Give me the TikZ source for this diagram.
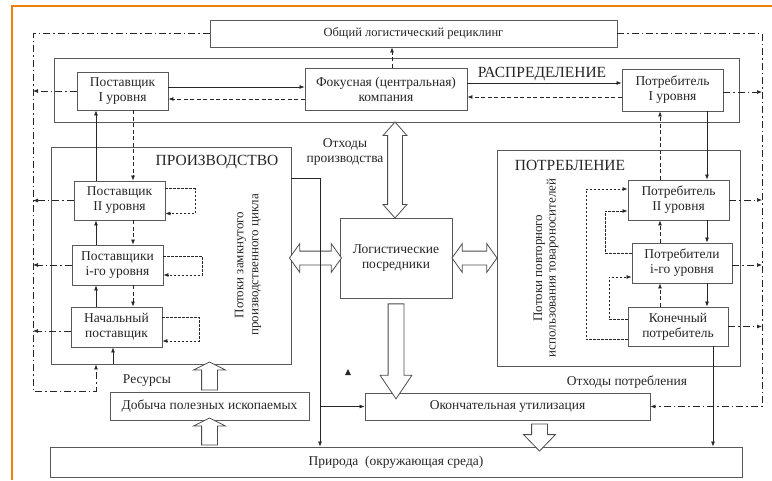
\documentclass[tikz,border=0pt]{standalone}
\usepackage{fontspec}
\setmainfont{Liberation Serif}
\usetikzlibrary{arrows.meta,shapes.arrows,calc}

\tikzset{
  box/.style={draw=black!65, line width=.9pt, fill=white, align=center, inner sep=1pt,
    font=\fontsize{13.5}{15}\selectfont},
  area/.style={draw=black!65, line width=.9pt},
  title/.style={font=\fontsize{15.5}{17}\selectfont},
  lbl/.style={font=\fontsize{13.5}{15}\selectfont, align=center},
  solidflow/.style={->},
  backflow/.style={->, dash pattern=on 4pt off 2.5pt},
  selfflow/.style={->, dash pattern=on 2.5pt off 1.5pt},
  recyc/.style={->, dash pattern=on 7pt off 3pt on 1.5pt off 3pt},
  fatone/.style={single arrow, draw=black!70, fill=white, line width=.8pt, inner xsep=0pt,
    inner ysep=7.5pt, minimum width=0pt, single arrow head extend=8pt},
  fattwo/.style={double arrow, draw=black!70, fill=white, line width=.8pt, inner xsep=0pt,
    inner ysep=7pt, minimum width=0pt},
}

\begin{document}
\begin{tikzpicture}[x=1pt,y=-1pt,>={Latex[length=5pt,width=4pt]},line width=.7pt,color=black!85]
\useasboundingbox (0,0) rectangle (772,480);
\draw[orange!75!brown, line width=1.5pt] (12,480) -- (12,6) -- (772,6);

% helper lines
\coordinate (lline) at (33,0);
\coordinate (rline) at (762,0);
\coordinate (lb) at (33,391);
\coordinate (sx) at (96,0);
\coordinate (dx) at (133,0);
\coordinate (rx) at (113,0);
\coordinate (cx) at (707,0);
\coordinate (ux) at (660,0);
\coordinate (nx) at (713,0);
\coordinate (wx) at (320,0);
\coordinate (wy) at (0,178);
\coordinate (bx) at (395,0);
\coordinate (cl1) at (586,0);
\coordinate (cl2) at (605,0);
\coordinate (cl3) at (609,0);

% areas
\node[area, minimum width=685pt, minimum height=64pt] (rasp) at (396.5,90) {};
\node[area, minimum width=240pt, minimum height=217pt] (prod) at (171,255.5) {};
\node[area, minimum width=243pt, minimum height=216pt] (cons) at (618.5,258) {};
\node[title] (raspt) at (542,74) {РАСПРЕДЕЛЕНИЕ};
\node[title] (prodt) at (217,162) {ПРОИЗВОДСТВО};
\node[title] (const) at (570,165) {ПОТРЕБЛЕНИЕ};

% boxes
\node[box, font=\fontsize{12.5}{14}\selectfont, minimum width=407pt, minimum height=27pt] (obsh) at (413.5,33.5) {Общий логистический рециклинг};
\node[box, minimum width=91pt, minimum height=38pt] (sup1) at (122.5,91) {Поставщик\\I уровня};
\node[box, minimum width=162pt, minimum height=42pt] (focus) at (386,89) {Фокусная (центральная)\\компания};
\node[box, minimum width=101pt, minimum height=42pt] (con1) at (672.5,90) {Потребитель\\I уровня};
\node[box, minimum width=91pt, minimum height=39pt] (sup2) at (119.5,200.5) {Поставщик\\II уровня};
\node[box, minimum width=91pt, minimum height=40pt] (supi) at (117.5,265) {Поставщики\\i-го уровня};
\node[box, minimum width=91pt, minimum height=40pt] (sup0) at (116.5,327) {Начальный\\поставщик};
\node[box, minimum width=112pt, minimum height=80pt] (log) at (396,258) {Логистические\\посредники};
\node[box, minimum width=101pt, minimum height=40pt] (con2) at (678.5,200) {Потребитель\\II уровня};
\node[box, minimum width=100pt, minimum height=40pt] (coni) at (682,263) {Потребители\\i-го уровня};
\node[box, minimum width=100pt, minimum height=39pt] (con0) at (678,326.5) {Конечный\\потребитель};
\node[box, minimum width=199pt, minimum height=28pt] (dob) at (209.5,406) {Добыча полезных ископаемых};
\node[box, minimum width=285pt, minimum height=27pt] (util) at (507.5,406.5) {Окончательная утилизация};
\node[box, minimum width=692pt, minimum height=30pt] (nat) at (396,462) {Природа\ \ (окружающая среда)};

% vertical texts and labels
\node[lbl, font=\fontsize{13}{15}\selectfont, rotate=90] (ptxt) at (248,265) {Потоки замкнутого\\производственного цикла};
\node[lbl, font=\fontsize{13}{13.5}\selectfont, rotate=90] (ctxt) at (546,268) {Потоки повторного\\использования товароносителей};
\node[lbl] (wprod) at (345,152) {Отходы\\производства};
\node[lbl] (res) at (147,381) {Ресурсы};
\node[lbl] (wcons) at (627,382) {Отходы потребления};

% block arrows
\node[fattwo, rotate=90, minimum height=96pt, double arrow head extend=4.5pt, double arrow tip angle=83]
  (dv) at ($(rasp.south -| bx)!.5!(log.north -| bx)$) {};
\node[fattwo, inner ysep=6.5pt, minimum height=52pt, double arrow head extend=7.5pt, double arrow tip angle=109]
  (dl) at ($(prod.east |- log.west)!.5!(log.west)$) {};
\node[fattwo, inner ysep=6.5pt, minimum height=45pt, double arrow head extend=7.5pt, double arrow tip angle=109]
  (dr) at ($(log.east)!.5!(log.east -| cons.west)$) {};
\node[fatone, rotate=90, minimum height=28pt, single arrow tip angle=127]
  (ar1) at ($(dob.north)!.5!(dob.north |- prod.south)$) {};
\node[fatone, rotate=90, minimum height=27pt, single arrow tip angle=127]
  (ar2) at ($(dob.south)!.5!(dob.south |- nat.north)$) {};
\node[fatone, rotate=-90, minimum height=95pt, single arrow tip angle=68]
  (ar3) at ($(log.south)!.5!(log.south |- util.north)$) {};
\node[fatone, rotate=-90, minimum height=27pt, single arrow tip angle=88]
  (ar4) at ($([xshift=32pt]util.south)!.5!([xshift=32pt]util.south |- nat.north)$) {};

% distribution
\draw[solidflow] ([yshift=4pt]sup1.east) -- ([yshift=4pt]sup1.east -| focus.west);
\draw[backflow] ([yshift=-10pt]focus.west) -- ([yshift=-10pt]focus.west -| sup1.east);
\draw[solidflow] ([yshift=6pt]focus.east) -- ([yshift=6pt]focus.east -| con1.west);
\draw[backflow] ([yshift=-7pt]con1.west) -- ([yshift=-7pt]con1.west -| focus.east);
\draw[backflow] ([xshift=6pt]focus.north) -- ([xshift=6pt]focus.north |- obsh.south);

% recycling loop
\draw[recyc] (obsh.west) -| (lb) -| (prod.south -| sx);
\draw[recyc] (obsh.east) -| (util.east -| rline) -- (util.east);
\draw[recyc] (sup1.west) -- (sup1.west -| lline);
\draw[recyc] (sup2.west) -- (sup2.west -| lline);
\draw[recyc] (supi.west) -- (supi.west -| lline);
\draw[recyc] ([yshift=-4pt]sup0.west) -- ([yshift=-4pt]sup0.west -| lline);
\draw[recyc] ([yshift=-2pt]con1.east) -- ([yshift=-2pt]con1.east -| rline);
\draw[recyc] (con2.east) -- (con2.east -| rline);
\draw[recyc] ([yshift=-2pt]coni.east) -- ([yshift=-2pt]coni.east -| rline);
\draw[recyc] (con0.east) -- (con0.east -| rline);

% production
\draw[solidflow] (sup2.north -| sx) -- (sup1.south -| sx);
\draw[solidflow] (supi.north -| sx) -- (sup2.south -| sx);
\draw[solidflow] (sup0.north -| sx) -- (supi.south -| sx);
\draw[solidflow] (prod.south -| rx) -- (sup0.south -| rx);
\draw[backflow] (sup1.south -| dx) -- (sup2.north -| dx);
\draw[backflow] (sup2.south -| dx) -- (supi.north -| dx);
\draw[backflow] (supi.south -| dx) -- (sup0.north -| dx);
\draw[selfflow] ([yshift=12pt]sup2.east) -- ++(30,0) -- ++(0,25) -- ++(-30,0);
\draw[selfflow] ([yshift=9pt]supi.east) -- ++(39,0) -- ++(0,19) -- ++(-39,0);
\draw[selfflow] ([yshift=10pt]sup0.east) -- ++(37,0) -- ++(0,24) -- ++(-37,0);

% production waste
\draw[->] (prod.east |- wy) -- (wx |- wy) -- (wx |- nat.north);
\draw[->] (wx |- util.west) -- (util.west);
\fill (345,375) -- (351,375) -- (348,369) -- cycle;

% consumption
\draw[solidflow] (con1.south -| cx) -- (con2.north -| cx);
\draw[solidflow] (con2.south -| cx) -- (coni.north -| cx);
\draw[solidflow] (coni.south -| cx) -- (con0.north -| cx);
\draw[solidflow] (con0.south -| nx) -- (nat.north -| nx);
\draw[backflow] (con2.north -| ux) -- (con1.south -| ux);
\draw[backflow] (coni.north -| ux) -- (con2.south -| ux);
\draw[backflow] (con0.north -| ux) -- (coni.south -| ux);
\draw[selfflow] ([yshift=-13pt]con0.west) -| ([yshift=11pt]con2.west -| cl1) -- ([yshift=11pt]con2.west);
\draw[selfflow] ([yshift=10pt]coni.west) -| ([yshift=-11pt]con2.west -| cl2) -- ([yshift=-11pt]con2.west);
\draw[selfflow] ([yshift=7pt]con0.west) -| ([yshift=-14pt]coni.west -| cl3) -- ([yshift=-14pt]coni.west);
\end{tikzpicture}
\end{document}
